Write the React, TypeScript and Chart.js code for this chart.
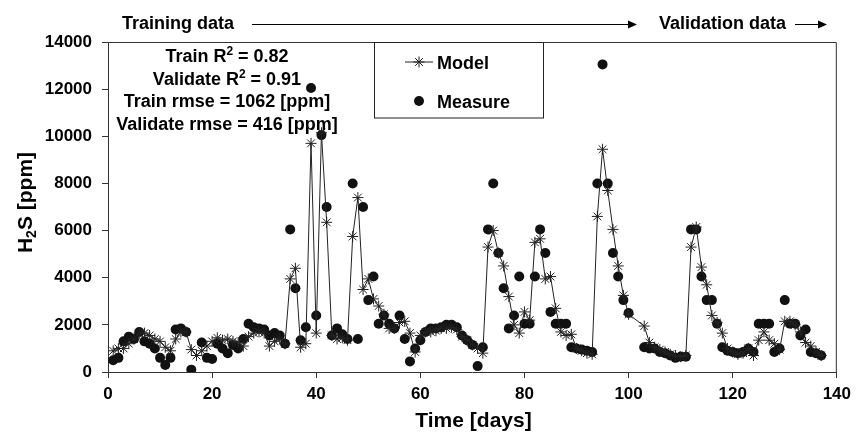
import React, { useEffect, useRef } from 'react';
import { Chart, registerables } from 'chart.js';

Chart.register(...registerables);

// ---------- data ----------
const measureDays = [
  1, 2, 3, 4, 5, 6, 7, 8, 9, 10, 11, 12, 13, 14, 15, 16, 18, 19, 20,
  21, 22, 23, 24, 25, 26, 27, 28, 29, 30, 31, 32, 33, 34, 35, 36, 37, 38, 39, 40,
  41, 42, 43, 44, 45, 46, 47, 48, 49, 50, 51, 52, 53, 54, 55, 56, 57, 58, 59, 60,
  61, 62, 63, 64, 65, 66, 67, 68, 69, 70, 71, 72, 73, 74, 75, 76, 77, 78, 79, 80,
  81, 82, 83, 84, 85, 86, 87, 88, 89, 90, 91, 92, 93, 94, 95, 96, 97, 98, 99, 100,
  103, 104, 105, 106, 107, 108, 109, 110, 111, 112, 113, 114, 115, 116, 117, 118, 119, 120,
  121, 122, 123, 124, 125, 126, 127, 128, 129, 130, 131, 132, 133, 134, 135, 136, 137,
];
const measureValues = [
  500, 600, 1300, 1500, 1400, 1700, 1300, 1200, 1000, 600, 300, 600, 1800, 1850, 1700, 100, 1250, 600, 550,
  1200, 1000, 800, 1150, 1000, 1400, 2050, 1900, 1850, 1800, 1550, 1650, 1550, 1200, 6050, 3550, 1350, 1900, 12050, 2400,
  10050, 7000, 1550, 1850, 1600, 1400, 8000, 1400, 7000, 3050, 4050, 2050, 2400, 2050, 1850, 2400, 1400, 450, 1000, 1350,
  1700, 1850, 1850, 1900, 2000, 2000, 1900, 1550, 1350, 1150, 250, 1050, 6050, 8000, 5050, 3550, 1850, 2400, 4050, 2050,
  2050, 4050, 6050, 5050, 2550, 2050, 2050, 2050, 1050, 1000, 950, 900, 850, 8000, 13050, 8000, 5050, 4050, 3050, 2500,
  1050, 1000, 1000, 850, 800, 700, 600, 650, 650, 6050, 6050, 4050, 3050, 3050, 2050, 1050, 900, 850,
  800, 850, 1000, 850, 2050, 2050, 2050, 850, 1000, 3050, 2050, 2050, 1550, 1800, 850, 800, 700,
];

const modelDays = [
  1, 2, 3, 4, 5, 6, 7, 8, 9, 10, 11, 12, 13, 14, 15, 16, 17, 18, 19, 20,
  21, 22, 23, 24, 25, 26, 27, 28, 29, 30, 31, 32, 33, 34, 35, 36, 37, 38, 39, 40,
  41, 42, 43, 44, 45, 46, 47, 48, 49, 50, 51, 52, 53, 54, 55, 56, 57, 58, 59, 60,
  61, 62, 63, 64, 65, 66, 67, 68, 69, 70, 71, 72, 73, 74, 75, 76, 77, 78, 79, 80,
  81, 82, 83, 84, 85, 86, 87, 88, 89, 90, 91, 92, 93, 94, 95, 96, 97, 98, 99, 100,
  103, 104, 105, 106, 107, 108, 109, 110, 111, 112, 113, 114, 115, 116, 117, 118, 119, 120,
  121, 122, 123, 124, 125, 126, 127, 128, 129, 130, 131, 132, 133, 134, 135, 136, 137,
];
const modelValues = [
  900, 1000, 1000, 1200, 1400, 1650, 1650, 1550, 1400, 1300, 1050, 900, 1400, 1700, 1700, 950, 700, 900, 1100, 1300,
  1450, 1350, 1400, 1300, 1250, 1100, 1500, 1650, 1700, 1650, 1100, 1300, 1400, 1200, 3950, 4400, 1050, 1200, 9700, 1650,
  10150, 6350, 1550, 1400, 1450, 1350, 5750, 7400, 3500, 3950, 3100, 2800, 2450, 1850, 1850, 2100, 2150, 1650, 850, 1550,
  1700, 1700, 1750, 1850, 1850, 1900, 1800, 1500, 1350, 1150, 1000, 800, 5300, 6000, 5050, 4500, 3200, 2000, 1650, 2550,
  2200, 5500, 5650, 3950, 4050, 2700, 1700, 1550, 1600, 1000, 900, 800, 750, 6600, 9450, 7700, 6050, 4500, 3250, 2450,
  1950, 1250, 1050, 950, 850, 750, 700, 650, 700, 5300, 6150, 4450, 3700, 2400, 2100, 1650, 1000, 850,
  750, 800, 1000, 700, 1350, 1700, 1350, 1200, 950, 2150, 2150, 2000, 1700, 1250, 1100, 850, 700,
];

const xTickValues = [0, 20, 40, 60, 80, 100, 120, 140];
const yTickValues = [0, 2000, 4000, 6000, 8000, 10000, 12000, 14000];

const legendLabels = ['Model', 'Measure'];
const statsPre = ['Train R', 'Validate R', 'Train rmse = 1062 [ppm]', 'Validate rmse = 416 [ppm]'];
const statsSup = ['2', '2', '', ''];
const statsPost = [' = 0.82', ' = 0.91', '', ''];
const periodLabels = ['Training data', 'Validation data'];
const xTitle = 'Time [days]';
const yTitleParts = ['H', '2', 'S [ppm]'];

const FONT = '"Liberation Sans", Arial, Helvetica, sans-serif';
const INK = '#111';
const AXIS = '#333';

function drawArrow(ctx: CanvasRenderingContext2D, x1: number, x2: number, y: number) {
  ctx.beginPath();
  ctx.moveTo(x1, y);
  ctx.lineTo(x2 - 8, y);
  ctx.stroke();
  ctx.beginPath();
  ctx.moveTo(x2 - 9, y - 4);
  ctx.lineTo(x2, y);
  ctx.lineTo(x2 - 9, y + 4);
  ctx.closePath();
  ctx.fill();
}

const decorPlugin = {
  id: 'decor',
  afterDraw(chart: any) {
    const ctx: CanvasRenderingContext2D = chart.ctx;
    const a = chart.chartArea;
    ctx.save();

    // frame (top / right)
    ctx.strokeStyle = AXIS;
    ctx.lineWidth = 1;
    ctx.beginPath();
    ctx.moveTo(a.left, a.top + 0.5);
    ctx.lineTo(a.right - 0.5, a.top + 0.5);
    ctx.lineTo(a.right - 0.5, a.bottom);
    ctx.stroke();

    // period annotations
    ctx.fillStyle = '#000';
    ctx.strokeStyle = '#000';
    ctx.font = `bold 18px ${FONT}`;
    ctx.textAlign = 'left';
    ctx.textBaseline = 'alphabetic';
    ctx.fillText(periodLabels[0], 122, 29);
    ctx.fillText(periodLabels[1], 659, 29);
    ctx.lineWidth = 1;
    drawArrow(ctx, 252, 637, 24.5);
    drawArrow(ctx, 795, 827, 24.5);

    // stats text
    const cx = 227;
    const baselines = [62, 84.5, 107, 129.5];
    for (let i = 0; i < statsPre.length; i++) {
      ctx.font = `bold 18px ${FONT}`;
      const w1 = ctx.measureText(statsPre[i]).width;
      const w3 = ctx.measureText(statsPost[i]).width;
      ctx.font = `bold 12px ${FONT}`;
      const w2 = statsSup[i] ? ctx.measureText(statsSup[i]).width : 0;
      let x = cx - (w1 + w2 + w3) / 2;
      const b = baselines[i];
      ctx.font = `bold 18px ${FONT}`;
      ctx.fillText(statsPre[i], x, b);
      x += w1;
      if (statsSup[i]) {
        ctx.font = `bold 12px ${FONT}`;
        ctx.fillText(statsSup[i], x, b - 7);
        x += w2;
      }
      ctx.font = `bold 18px ${FONT}`;
      ctx.fillText(statsPost[i], x, b);
    }

    // legend box
    ctx.strokeStyle = '#222';
    ctx.lineWidth = 1;
    ctx.strokeRect(374.5, 42.5, 169, 75.5);
    // model entry
    ctx.beginPath();
    ctx.moveTo(405, 62);
    ctx.lineTo(433, 62);
    ctx.stroke();
    const r = 5.5;
    ctx.beginPath();
    ctx.moveTo(419 - r, 62);
    ctx.lineTo(419 + r, 62);
    ctx.moveTo(419, 62 - r);
    ctx.lineTo(419, 62 + r);
    const d = r * Math.SQRT1_2;
    ctx.moveTo(419 - d, 62 - d);
    ctx.lineTo(419 + d, 62 + d);
    ctx.moveTo(419 - d, 62 + d);
    ctx.lineTo(419 + d, 62 - d);
    ctx.stroke();
    // measure entry
    ctx.fillStyle = INK;
    ctx.beginPath();
    ctx.arc(419, 101, 5, 0, Math.PI * 2);
    ctx.fill();
    ctx.fillStyle = '#000';
    ctx.font = `bold 18px ${FONT}`;
    ctx.fillText(legendLabels[0], 437, 68.5);
    ctx.fillText(legendLabels[1], 437, 107.5);

    // x title
    ctx.font = `bold 21px ${FONT}`;
    ctx.textAlign = 'center';
    ctx.fillText(xTitle, 473.5, 427);

    // y title (rotated, with subscript)
    ctx.save();
    ctx.translate(23.5, 202.5);
    ctx.rotate(-Math.PI / 2);
    ctx.textAlign = 'left';
    ctx.font = `bold 21px ${FONT}`;
    const wa = ctx.measureText(yTitleParts[0]).width;
    const wc = ctx.measureText(yTitleParts[2]).width;
    ctx.font = `bold 14px ${FONT}`;
    const wb = ctx.measureText(yTitleParts[1]).width;
    let tx = -(wa + wb + wc) / 2;
    ctx.font = `bold 21px ${FONT}`;
    ctx.fillText(yTitleParts[0], tx, 8);
    tx += wa;
    ctx.font = `bold 14px ${FONT}`;
    ctx.fillText(yTitleParts[1], tx, 12);
    tx += wb;
    ctx.font = `bold 21px ${FONT}`;
    ctx.fillText(yTitleParts[2], tx, 8);
    ctx.restore();

    ctx.restore();
  },
};

export default function App() {
  const ref = useRef<HTMLCanvasElement | null>(null);

  useEffect(() => {
    if (!ref.current) return;
    const chart = new Chart(ref.current, {
      type: 'scatter',
      data: {
        datasets: [
          {
            label: legendLabels[0],
            data: modelDays.map((d, i) => ({ x: d, y: modelValues[i] })),
            showLine: true,
            borderColor: '#222',
            borderWidth: 1,
            pointStyle: 'star',
            pointRadius: 5.5,
            pointBorderWidth: 1,
            pointBorderColor: '#222',
            pointBackgroundColor: '#222',
            order: 0,
          },
          {
            label: legendLabels[1],
            data: measureDays.map((d, i) => ({ x: d, y: measureValues[i] })),
            showLine: false,
            pointStyle: 'circle',
            pointRadius: 5,
            pointBorderWidth: 0,
            backgroundColor: INK,
            borderColor: INK,
            pointBackgroundColor: INK,
            order: 1,
          },
        ],
      },
      options: {
        responsive: false,
        animation: false,
        events: [],
        layout: { padding: { top: 42, right: 15, left: 0, bottom: 0 } },
        plugins: {
          legend: { display: false },
          tooltip: { enabled: false },
          title: { display: false },
        },
        scales: {
          x: {
            type: 'linear',
            min: 0,
            max: 140,
            afterFit: (s: any) => {
              s.height = 61;
            },
            afterBuildTicks: (s: any) => {
              s.ticks = xTickValues.map((v) => ({ value: v }));
            },
            grid: { drawOnChartArea: false, drawTicks: true, tickLength: 6, color: AXIS },
            border: { display: true, color: AXIS, width: 1 },
            ticks: {
              color: '#000',
              padding: 6,
              maxRotation: 0,
              autoSkip: false,
              font: { family: FONT, size: 17, weight: 'bold' },
            },
          },
          y: {
            type: 'linear',
            min: 0,
            max: 14000,
            afterFit: (s: any) => {
              s.width = 108;
            },
            afterBuildTicks: (s: any) => {
              s.ticks = yTickValues.map((v) => ({ value: v }));
            },
            grid: { drawOnChartArea: false, drawTicks: true, tickLength: 6, color: AXIS },
            border: { display: true, color: AXIS, width: 1 },
            ticks: {
              color: '#000',
              padding: 10,
              autoSkip: false,
              font: { family: FONT, size: 17, weight: 'bold' },
              callback: (v: any) => String(v),
            },
          },
        },
      },
      plugins: [decorPlugin],
    } as any);
    return () => chart.destroy();
  }, []);

  return (
    <div style={{ position: 'fixed', left: 0, top: 0, width: 857, height: 433, background: '#fff' }}>
      <canvas ref={ref} width={857} height={433} style={{ width: 857, height: 433, display: 'block' }} />
    </div>
  );
}
